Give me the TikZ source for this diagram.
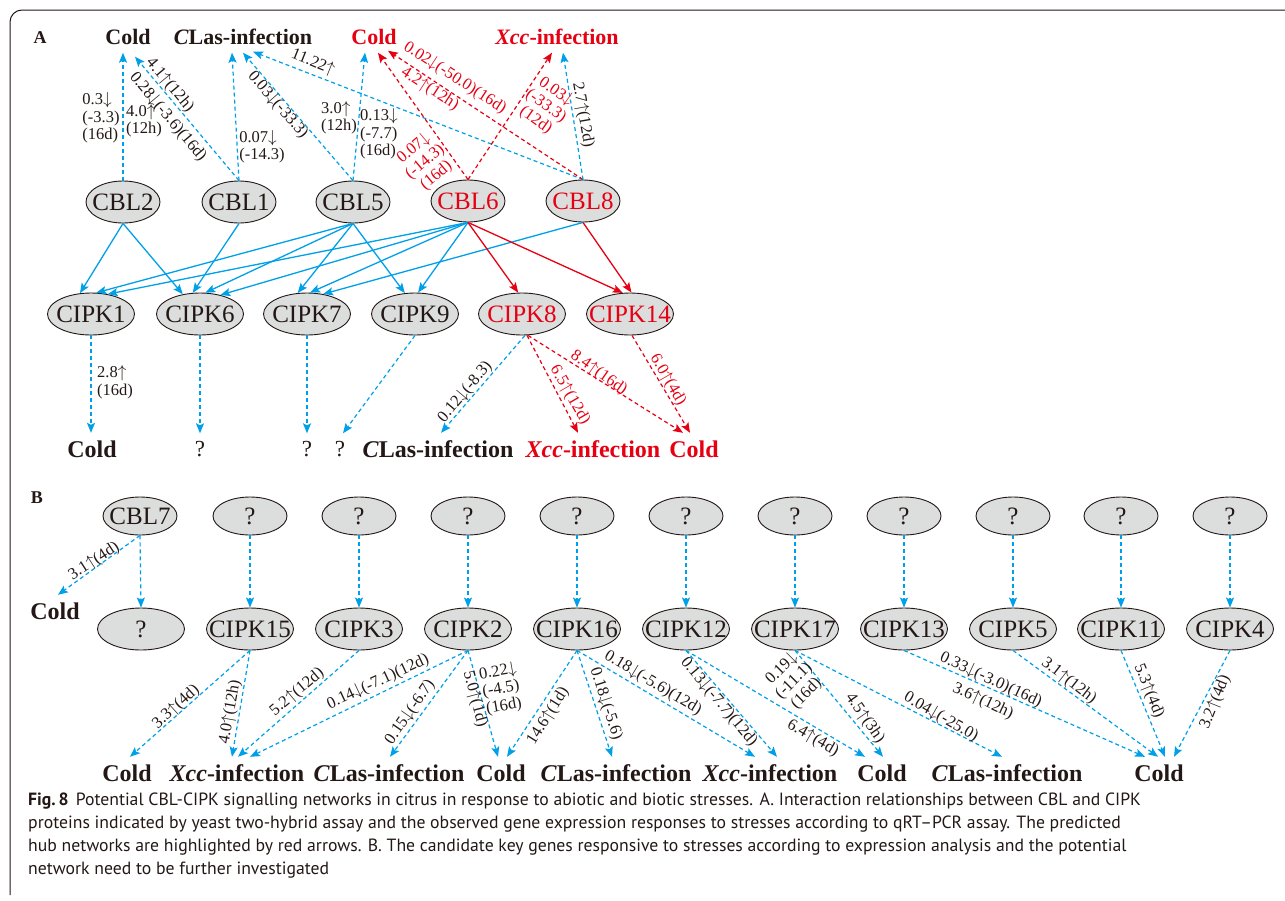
\documentclass[tikz,border=0pt]{standalone}
\usepackage{fontspec}
\setmainfont{Liberation Serif}
\newfontfamily\capfont{PT Sans}
\usetikzlibrary{arrows.meta,shapes.geometric,calc}
\definecolor{ink}{HTML}{231815}
\definecolor{cblue}{HTML}{00A0E9}
\definecolor{cred}{HTML}{E60012}
\definecolor{efill}{HTML}{DCDDDD}
\newcommand{\ua}{\ensuremath{\uparrow}}
\newcommand{\da}{\ensuremath{\downarrow}}
\newcommand{\gn}[1]{\makebox[0pt]{#1}}
\begin{document}
\begin{tikzpicture}[x=1pt,y=-1pt,
  every node/.style={text=ink},
  gene/.style={ellipse, draw=ink, line width=0.9pt, fill=efill, inner sep=0pt, minimum width=74pt, minimum height=42pt, font=\fontsize{25}{25}\selectfont},
  kin/.style={gene, minimum width=87pt, minimum height=42pt},
  qbox/.style={gene, minimum width=74pt, minimum height=38pt},
  lab/.style={font=\bfseries\fontsize{22}{22}\selectfont, inner xsep=0pt, inner ysep=8pt, text height=15pt, text depth=0pt},
  blab/.style={lab, font=\bfseries\fontsize{24}{24}\selectfont, text height=16pt},
  qlab/.style={lab, font=\fontsize{23}{23}\selectfont},
  num/.style={font=\fontsize{16.5}{17.5}\selectfont, inner sep=0pt, align=center},
  rnum/.style={num, text=cred},
  tipA/.style={-{Stealth[length=10pt,width=8pt,inset=2pt]}},
  bl/.style={draw=cblue, line width=1.2pt, dash pattern=on 4pt off 3pt, tipA},
  rd/.style={draw=cred, line width=1.2pt, dash pattern=on 4pt off 3pt, tipA},
  bs/.style={draw=cblue, line width=1.3pt, tipA},
  rs/.style={draw=cred, line width=1.3pt, tipA}
]
\useasboundingbox (0,0) rectangle (1285,900);
\draw[ink, line width=1pt, rounded corners=12pt] (1290,10) -- (10,10) -- (10,895);

% ---------- Panel A ----------
\node[font=\bfseries\fontsize{18}{18}\selectfont] (panA) at (40,38) {A};
\node[lab] (tcold) at (128,37) {Cold};
\node[lab] (tclas) at (243,37) {\textit{C}Las-infection};
\node[lab, text=cred] (tcoldr) at (374,37) {Cold};
\node[lab, text=cred] (txcc) at (557,37) {\textit{Xcc}-infection};

\node[gene] (cbl2) at (123,202) {\gn{CBL2}};
\node[gene] (cbl1) at (239,202) {\gn{CBL1}};
\node[gene] (cbl5) at (353,202) {\gn{CBL5}};
\node[gene, text=cred] (cbl6) at (468,201) {\gn{CBL6}};
\node[gene, text=cred] (cbl8) at (583,201) {\gn{CBL8}};

\node[kin] (cipk1) at (91,314) {\gn{CIPK1}};
\node[kin] (cipk6) at (200,314) {\gn{CIPK6}};
\node[kin] (cipk7) at (307,314) {\gn{CIPK7}};
\node[kin] (cipk9) at (415,314) {\gn{CIPK9}};
\node[kin, text=cred] (cipk8) at (522,314) {\gn{CIPK8}};
\node[kin, text=cred] (cipk14) at (630,314) {\gn{CIPK14}};

\node[blab] (bcold) at (92,449) {Cold};
\node[qlab] (bq1) at (200,449) {?};
\node[qlab] (bq2) at (307,449) {?};
\node[qlab] (bq3) at (340,449) {?};
\node[blab] (bclas) at (438,449) {\textit{C}Las-infection};
\node[blab, text=cred] (bxcc) at (593,449) {\textit{Xcc}-infection};
\node[blab, text=cred] (bcoldr) at (694,449) {Cold};

% dashed upward
\draw[bl] (cbl2.north) -- ([xshift=-5pt]tcold.south);
\draw[bl] (cbl1.north) -- ([xshift=7pt,yshift=-4pt]tcold.south);
\draw[bl] (cbl1.north) -- ([xshift=-11pt]tclas.south);
\draw[bl] (cbl5.north) -- (tclas.south);
\draw[bl] (cbl8.north) -- ([xshift=10pt,yshift=1pt]tclas.south);
\draw[bl] (cbl5.north) -- ([xshift=-9pt]tcoldr.south);
\draw[rd] (cbl6.north) -- ([xshift=4pt]tcoldr.south);
\draw[rd] (cbl8.north) -- ([xshift=14pt,yshift=2pt]tcoldr.south);
\draw[rd] (cbl6.north) -- ([xshift=-5pt]txcc.south);
\draw[bl] (cbl8.north) -- ([xshift=6pt]txcc.south);

% solid CBL -> CIPK
\draw[bs] (cbl2.south) -- (cipk1.118);
\draw[bs] (cbl2.south) -- (cipk6.131);
\draw[bs] (cbl1.south) -- (cipk6.109);
\draw[bs] (cbl5.south) -- (cipk1.76);
\draw[bs] (cbl5.south) -- (cipk6.76);
\draw[bs] (cbl5.south) -- (cipk7.114);
\draw[bs] (cbl5.south) -- (cipk9.116);
\draw[bs] (cbl6.south) -- (cipk1.50);
\draw[bs] (cbl6.south) -- (cipk6.43);
\draw[bs] (cbl6.south) -- (cipk7.82);
\draw[bs] (cbl6.south) -- (cipk9.82);
\draw[bs] (cbl8.south) -- (cipk7.51);
\draw[rs] (cbl6.south) -- (cipk8.100);
\draw[rs] (cbl6.south) -- (cipk14.109);
\draw[rs] (cbl8.south) -- (cipk14.86);

% dashed downward
\draw[bl] (cipk1.south) -- ([xshift=-1pt]bcold.north);
\draw[bl] (cipk6.south) -- (bq1.north);
\draw[bl] (cipk7.south) -- (bq2.north);
\draw[bl] (cipk9.south) -- ([xshift=3pt]bq3.north);
\draw[bl] ([xshift=3pt]cipk8.south) -- ([xshift=3pt]bclas.north);
\draw[rd] ([xshift=5pt]cipk8.south) -- ([xshift=-15pt]bxcc.north);
\draw[rd] ([xshift=6pt]cipk8.south) -- ([xshift=-11pt]bcoldr.north);
\draw[rd] ([xshift=2pt]cipk14.south) -- ([xshift=-4pt]bcoldr.north);

% labels A
\node[num, align=left] (n1) at (101,118) {0.3\da\\(-3.3)\\(16d)};
\node[num, align=left] (n2) at (144,121) {4.0\ua\\(12h)};
\node[num, rotate=-50] (n3) at (170,85) {4.1\ua(12h)};
\node[num, rotate=-50] (n4) at (168,117) {0.28\da(-3.6)(16d)};
\node[num, align=left] (n5) at (262,147) {0.07\da\\(-14.3)};
\node[num, rotate=-49] (n6) at (278,105) {0.03\da(-33.3)};
\node[num, rotate=-22] (n7) at (313,62) {11.22\ua};
\node[num, align=left] (n8) at (339,118) {3.0\ua\\(12h)};
\node[num, align=left] (n9) at (379,134) {0.13\da\\(-7.7)\\(16d)};
\node[rnum, rotate=40] (n10) at (425,162) {0.07\da\\(-14.3)\\(16d)};
\node[rnum, rotate=-33] (n11) at (455,78) {0.02\da(-50.0)(16d)};
\node[rnum, rotate=-33] (n12) at (430,89) {4.2\ua(12h)};
\node[rnum, rotate=-35] (n13) at (546,106) {0.03\da\\(-33.3)\\(12d)};
\node[num, rotate=-80] (n14) at (583,115) {2.7\ua(12d)};
\node[num, align=left] (n15) at (115,382) {2.8\ua\\(16d)};
\node[num, rotate=50] (n16) at (465,392) {0.12\da(-8.3)};
\node[rnum, rotate=-60] (n17) at (570,395) {6.5\ua(12d)};
\node[rnum, rotate=-35] (n18) at (599,373) {8.4\ua(16d)};
\node[rnum, rotate=-60] (n19) at (668,380) {6.0\ua(4d)};

% ---------- Panel B ----------
\node[font=\bfseries\fontsize{18}{18}\selectfont] (panB) at (37,498) {B};
\node[qbox] (cbl7) at (140,516) {\gn{CBL7}};
\foreach \i/\x in {1/250,2/359,3/468,4/577,5/686,6/795,7/904,8/1013,9/1121,10/1230}
  \node[qbox] (q\i) at (\x,516) {?};
\node[kin] (k0) at (141,629) {?};
\node[kin] (cipk15) at (250,629) {\gn{CIPK15}};
\node[kin] (cipk3) at (359,629) {\gn{CIPK3}};
\node[kin] (cipk2) at (468,629) {\gn{CIPK2}};
\node[kin] (cipk16) at (577,629) {\gn{CIPK16}};
\node[kin] (cipk12) at (686,629) {\gn{CIPK12}};
\node[kin] (cipk17) at (795,629) {\gn{CIPK17}};
\node[kin] (cipk13) at (904,629) {\gn{CIPK13}};
\node[kin] (cipk5) at (1013,629) {\gn{CIPK5}};
\node[kin] (cipk11) at (1121,629) {\gn{CIPK11}};
\node[kin] (cipk4) at (1230,629) {\gn{CIPK4}};

\node[blab] (coldL) at (55,611) {Cold};
\node[blab] (c1) at (127,773) {Cold};
\node[blab] (x1) at (237,773) {\textit{Xcc}-infection};
\node[blab] (l1) at (389,773) {\textit{C}Las-infection};
\node[blab] (c2) at (501,773) {Cold};
\node[blab] (l2) at (616,773) {\textit{C}Las-infection};
\node[blab] (x2) at (770,773) {\textit{Xcc}-infection};
\node[blab] (c3) at (882,773) {Cold};
\node[blab] (l3) at (1007,773) {\textit{C}Las-infection};
\node[blab] (c4) at (1159,773) {Cold};

\draw[bl] (cbl7.south) -- (k0.north);
\foreach \i/\k in {1/cipk15,2/cipk3,3/cipk2,4/cipk16,5/cipk12,6/cipk17,7/cipk13,8/cipk5,9/cipk11,10/cipk4}
  \draw[bl] (q\i.south) -- (\k.north);
\draw[bl] (cbl7.south) -- ([xshift=3pt]coldL.north);

\draw[bl] (cipk15.south) -- ([xshift=3pt]c1.north);
\draw[bl] (cipk15.south) -- ([xshift=-5pt]x1.north);
\draw[bl] (cipk3.south) -- ([xshift=1pt]x1.north);
\draw[bl] (cipk2.south) -- ([xshift=13pt]x1.north);
\draw[bl] (cipk2.south) -- ([xshift=1pt]l1.north);
\draw[bl] (cipk2.south) -- ([xshift=-3pt]c2.north);
\draw[bl] (cipk16.south) -- ([xshift=6pt]c2.north);
\draw[bl] (cipk16.south) -- ([xshift=-4pt]l2.north);
\draw[bl] (cipk16.south) -- ([xshift=-15pt]x2.north);
\draw[bl] (cipk12.south) -- ([xshift=7pt]x2.north);
\draw[bl] (cipk12.south) -- ([xshift=-17pt]c3.north);
\draw[bl] (cipk17.south) -- ([xshift=1pt]c3.north);
\draw[bl] (cipk17.south) -- ([xshift=-5pt]l3.north);
\draw[bl] (cipk13.south) -- ([xshift=-14pt]c4.north);
\draw[bl] (cipk5.south) -- ([xshift=-1pt]c4.north);
\draw[bl] (cipk11.south) -- ([xshift=6pt]c4.north);
\draw[bl] (cipk4.south) -- ([xshift=15pt]c4.north);

% labels B
\node[num, rotate=33] (n20) at (94,561) {3.1\ua(4d)};
\node[num, rotate=42] (n21) at (176,707) {3.3\ua(4d)};
\node[num, rotate=80] (n22) at (230,712) {4.0\ua(12h)};
\node[num, rotate=40] (n23) at (297,692) {5.2\ua(12d)};
\node[num, rotate=25] (n24) at (378,682) {0.14\da(-7.1)(12d)};
\node[num, rotate=55] (n25) at (410,712) {0.15\da(-6.7)};
\node[num, rotate=-75] (n26) at (475,699) {5.0\ua(1d)};
\node[num, rotate=10] (n27) at (501,689) {0.22\da\\(-4.5)\\(16d)};
\node[num, rotate=58] (n28) at (548,716) {14.6\ua(1d)};
\node[num, rotate=-72] (n29) at (606,704) {0.18\da(-5.6)};
\node[num, rotate=-31] (n30) at (653,683) {0.18\da(-5.6)(12d)};
\node[num, rotate=-50] (n31) at (719,702) {0.13\da(-7.7)(12d)};
\node[num, rotate=-30] (n32) at (813,738) {6.4\ua(4d)};
\node[num, rotate=45] (n33) at (794,681) {0.19\da\\(-11.1)\\(16d)};
\node[num, rotate=-55] (n34) at (865,718) {4.5\ua(3h)};
\node[num, rotate=-30] (n35) at (941,717) {0.04\da(-25.0)};
\node[num, rotate=-25] (n36) at (991,680) {0.33\da(-3.0)(16d)};
\node[num, rotate=-25] (n37) at (983,701) {3.6\ua(12h)};
\node[num, rotate=-38] (n38) at (1069,681) {3.1\ua(12h)};
\node[num, rotate=-68] (n39) at (1149,691) {5.3\ua(4d)};
\node[num, rotate=68] (n40) at (1215,702) {3.2\ua(4d)};

% caption
\begin{scope}[every node/.style={text=ink, anchor=west, inner sep=0pt, font=\capfont\fontsize{17.7}{17.7}\selectfont}]
\node (cap1) at (28,801) {\textbf{Fig.\,8}\hspace{7pt}Potential CBL-CIPK signalling networks in citrus in response to abiotic and biotic stresses. A. Interaction relationships between CBL and CIPK};
\node (cap2) at (28,824) {proteins indicated by yeast two-hybrid assay and the observed gene expression responses to stresses according to qRT–PCR assay. The predicted};
\node (cap3) at (28,847) {hub networks are highlighted by red arrows. B. The candidate key genes responsive to stresses according to expression analysis and the potential};
\node (cap4) at (28,870) {network need to be further investigated};
\end{scope}
\end{tikzpicture}
\end{document}
